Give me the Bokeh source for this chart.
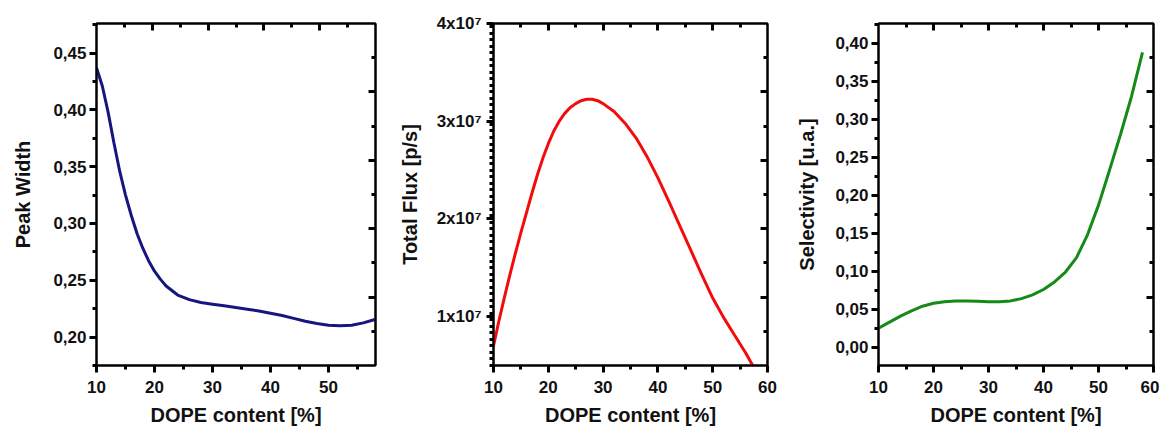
from bokeh.plotting import figure
from bokeh.layouts import row
from bokeh.models import Range1d, LinearAxis, FixedTicker, CustomJSTickFormatter
from bokeh.embed import file_html
from bokeh.resources import INLINE

# ---------------- data ----------------
dope_pw = [10, 11, 12, 13, 14, 15, 16, 17, 18, 19, 20, 21, 22, 23, 24, 25, 26, 28,
           30, 32, 34, 36, 38, 40, 42, 44, 46, 48, 50, 52, 54, 56, 58]
peak_width = [0.437, 0.421, 0.398, 0.371, 0.346, 0.325, 0.307, 0.291, 0.278, 0.267,
              0.258, 0.251, 0.245, 0.241, 0.237, 0.235, 0.233, 0.2305,
              0.229, 0.2275, 0.226, 0.2245, 0.223, 0.221, 0.219, 0.2165, 0.214,
              0.212, 0.2105, 0.210, 0.2105, 0.2125, 0.2155]

dope_fx = [10, 11, 12, 13, 14, 15, 16, 17, 18, 19, 20, 21, 22, 23, 24, 25, 26, 27,
           28, 29, 30, 32, 34, 36, 38, 40, 42, 44, 46, 48, 50, 52, 54, 56, 57.3]
total_flux = [0.70e7, 0.96e7, 1.20e7, 1.43e7, 1.65e7, 1.86e7, 2.06e7, 2.26e7, 2.45e7,
              2.62e7, 2.77e7, 2.90e7, 3.00e7, 3.08e7, 3.14e7, 3.18e7, 3.21e7, 3.225e7,
              3.225e7, 3.21e7, 3.18e7, 3.10e7, 2.98e7, 2.83e7, 2.64e7, 2.42e7, 2.18e7,
              1.93e7, 1.68e7, 1.43e7, 1.19e7, 0.99e7, 0.81e7, 0.63e7, 0.50e7]

dope_sel = [10, 12, 14, 16, 18, 20, 22, 24, 26, 28, 30, 32, 34, 36, 38, 40, 42, 44,
            46, 48, 50, 52, 54, 56, 58]
selectivity = [0.025, 0.033, 0.041, 0.048, 0.054, 0.058, 0.060, 0.061, 0.061, 0.0605,
               0.060, 0.060, 0.061, 0.064, 0.069, 0.076, 0.086, 0.099, 0.118, 0.148,
               0.187, 0.233, 0.280, 0.330, 0.388]

x_major = [10, 20, 30, 40, 50, 60]
x_minor = [15, 25, 35, 45, 55]
pw_major = [0.20, 0.25, 0.30, 0.35, 0.40, 0.45]
pw_minor = [0.175, 0.225, 0.275, 0.325, 0.375, 0.425, 0.475]
fx_major = [1e7, 2e7, 3e7, 4e7]
fx_minor = [5e6 + i * 1e7 / 15 for i in range(0, 53)]
sel_major = [0.00, 0.05, 0.10, 0.15, 0.20, 0.25, 0.30, 0.35, 0.40]
sel_minor = [-0.025, 0.025, 0.075, 0.125, 0.175, 0.225, 0.275, 0.325, 0.375, 0.425]
frame_major = [2, 4, 6, 8]
frame_minor = [1, 3, 5, 7, 9]

FONT = "Liberation Sans"
H = 428


def style_ticks(ax, tin, tout, mtin, mtout):
    ax.axis_line_color = "black"
    ax.axis_line_width = 2
    ax.major_tick_line_color = "black"
    ax.minor_tick_line_color = "black"
    ax.major_tick_line_width = 3
    ax.minor_tick_line_width = 3
    ax.major_tick_in = tin
    ax.major_tick_out = tout
    ax.minor_tick_in = mtin
    ax.minor_tick_out = mtout


def make_fig(width, bl, br, xr, yr, xlabel, ylabel, ymaj, ymin, yfmt, lstand, ystand):
    p = figure(width=width, height=H, output_backend="svg", toolbar_location=None,
               x_range=Range1d(*xr), y_range=Range1d(*yr),
               min_border_left=bl, min_border_right=br, min_border_top=23,
               min_border_bottom=60)
    p.xgrid.visible = False
    p.ygrid.visible = False
    p.outline_line_color = "black"
    p.outline_line_width = 2
    p.background_fill_color = "white"
    p.border_fill_color = "white"

    xa = p.xaxis[0]
    xa.ticker = FixedTicker(ticks=x_major, minor_ticks=x_minor)
    xa.axis_label = xlabel
    ya = p.yaxis[0]
    ya.ticker = FixedTicker(ticks=ymaj, minor_ticks=ymin)
    ya.formatter = yfmt
    ya.axis_label = ylabel
    for ax in (xa, ya):
        style_ticks(ax, 0, 7, 0, 4)
        ax.major_label_text_font = FONT
        ax.major_label_text_font_style = "bold"
        ax.major_label_text_font_size = "17px"
        ax.major_label_text_color = "#111111"
        ax.axis_label_text_font = FONT
        ax.axis_label_text_font_style = "bold"
        ax.axis_label_text_font_size = "20px"
        ax.axis_label_text_color = "#111111"
    xa.major_label_standoff = 8
    xa.axis_label_standoff = 8
    ya.major_label_standoff = ystand
    ya.axis_label_standoff = lstand

    p.extra_x_ranges = {"top": Range1d(0, 10)}
    p.extra_y_ranges = {"right": Range1d(0, 10)}
    empty = CustomJSTickFormatter(code="return ''")
    ta = LinearAxis(x_range_name="top")
    ra = LinearAxis(y_range_name="right")
    for ax in (ta, ra):
        ax.ticker = FixedTicker(ticks=frame_major, minor_ticks=frame_minor)
        ax.formatter = empty
        style_ticks(ax, 7, 0, 4, 0)
        ax.major_label_standoff = 0
        ax.major_label_text_font_size = "1px"
    p.add_layout(ta, "above")
    p.add_layout(ra, "right")
    return p


comma = CustomJSTickFormatter(code="return tick.toFixed(2).replace('.', ',');")
comma3 = CustomJSTickFormatter(code="return tick.toFixed(2).replace('.', ',');")
sci = CustomJSTickFormatter(code="return Math.round(tick / 1e7) + 'x10\u2077';")

p1 = make_fig(395, 96, 20, (10, 58.1), (0.175, 0.476), "DOPE content [%]", "Peak Width",
              pw_major, pw_minor, comma, 16, 3)
p1.line(dope_pw, peak_width, line_color="#16167e", line_width=3)

p2 = make_fig(392, 95, 20, (10, 60), (5e6, 4e7), "DOPE content [%]", "Total Flux [p/s]",
              fx_major, fx_minor, sci, 13, 5)
p2.line(dope_fx, total_flux, line_color="#f20d0d", line_width=3)

p3 = make_fig(372, 91, 6, (10, 60), (-0.024, 0.426), "DOPE content [%]", "Selectivity [u.a.]",
              sel_major, sel_minor, comma3, 14, 3)
p3.line(dope_sel, selectivity, line_color="#168a16", line_width=3)

layout = row(p1, p2, p3)
open("out.html", "w").write(file_html(layout, INLINE))
